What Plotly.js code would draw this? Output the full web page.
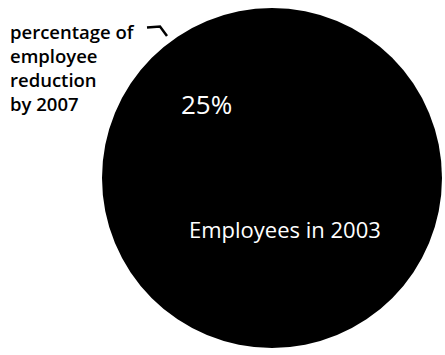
<!DOCTYPE html>
<html>
<head>
<meta charset="utf-8">
<script src="https://cdn.plot.ly/plotly-3.0.1.min.js"></script>
<style>html,body{margin:0;padding:0;background:#fff;}#chart{width:445px;height:355px;}</style>
</head>
<body>
<div id="chart"></div>
<script>
// Data
const labels = ["percentage of employee reduction by 2007", "Employees in 2003"];
const values = [25, 75];
const calloutLines = ["percentage of", "employee", "reduction", "by 2007"];

const W = 445, H = 355;
const px = x => x / W;
const py = y => 1 - y / H;

const trace = {
  type: "pie",
  labels: labels,
  values: values,
  sort: false,
  direction: "counterclockwise",
  rotation: 0,
  textinfo: "none",
  hoverinfo: "label+percent",
  marker: { colors: ["#000000", "#000000"], line: { color: "#000000", width: 0 } },
  domain: { x: [px(102), px(442)], y: [py(348), py(8)] },
  showlegend: false
};

const layout = {
  width: W, height: H,
  margin: { l: 0, r: 0, t: 0, b: 0 },
  paper_bgcolor: "#ffffff",
  plot_bgcolor: "#ffffff",
  showlegend: false,
  font: { family: "Open Sans, sans-serif", color: "#000" },
  annotations: [
    {
      text: values[0] + "%",
      xref: "paper", yref: "paper", x: px(206), y: py(104),
      xanchor: "center", yanchor: "middle", showarrow: false,
      font: { family: "Open Sans, sans-serif", size: 26, color: "#ffffff" }
    },
    {
      text: labels[1],
      xref: "paper", yref: "paper", x: px(285), y: py(229),
      xanchor: "center", yanchor: "middle", showarrow: false,
      font: { family: "Open Sans, sans-serif", size: 22, color: "#ffffff" }
    },
    {
      text: calloutLines.join("<br>"),
      xref: "paper", yref: "paper", x: px(8), y: py(17),
      xanchor: "left", yanchor: "top", align: "left", showarrow: false,
      font: { family: "Open Sans, sans-serif", size: 18.5, color: "#000000", weight: 600 }
    }
  ],
  shapes: [
    {
      type: "path", xref: "paper", yref: "paper",
      path: "M " + px(147) + " " + py(27.5) + " L " + px(160) + " " + py(26.5) + " L " + px(167) + " " + py(36),
      line: { color: "#000000", width: 2.5 }
    }
  ]
};

Plotly.newPlot("chart", [trace], layout, { displayModeBar: false, staticPlot: true });
</script>
</body>
</html>
